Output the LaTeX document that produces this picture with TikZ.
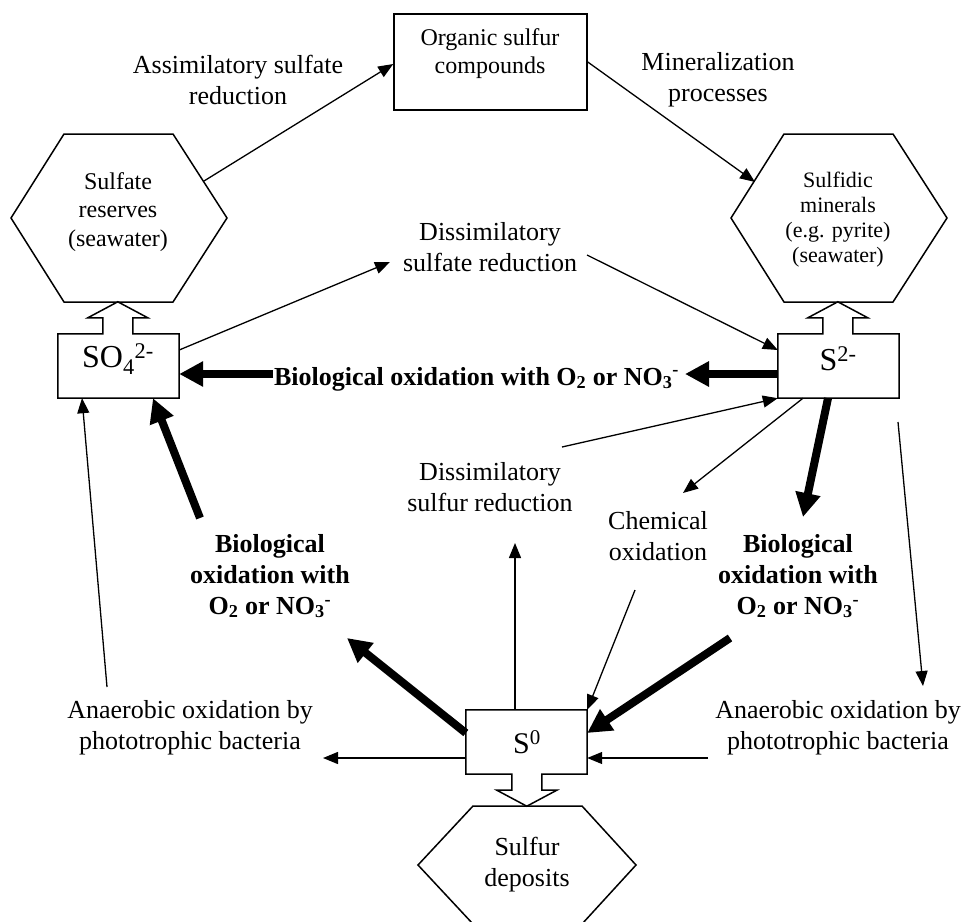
\documentclass[tikz,border=0pt]{standalone}
\usepackage{fontspec}
\setmainfont{Liberation Serif}
\usetikzlibrary{arrows.meta}
\begin{document}
\begin{tikzpicture}[x=1pt,y=-1pt,
  outline/.style={draw,line width=1.5pt,line join=miter},
  thinarrow/.style={line width=1.3pt,-{Triangle[length=15pt,width=12pt]}},
  thinline/.style={line width=1.3pt},
  thickarrow/.style={line width=8pt,-{Triangle[length=24pt,width=24pt]}},
  slot/.style={rectangle,inner sep=0pt,minimum width=121pt,minimum height=64pt},
  lbl/.style={align=center,inner sep=0pt,font=\fontsize{26}{31}\selectfont},
  blbl/.style={align=center,inner sep=0pt,font=\fontsize{26}{31}\selectfont\bfseries},
  hexlbl/.style={align=center,inner sep=0pt,font=\fontsize{24}{28.5}\selectfont},
  minlbl/.style={align=center,inner sep=0pt,font=\fontsize{22}{25}\selectfont},
  ionlbl/.style={inner sep=0pt,font=\fontsize{32}{36}\selectfont}]
\useasboundingbox (0,0) rectangle (966,921);

% hexagons
\draw[outline] (64,134) -- (173,134) -- (227,218) -- (173,302) -- (64,302) -- (11,218) -- cycle;
\draw[outline] (784,134) -- (893,134) -- (947,218) -- (893,302) -- (784,302) -- (731,218) -- cycle;
\draw[outline] (473,806) -- (582,806) -- (636,865) -- (582,924) -- (473,924) -- (418,865) -- cycle;
\node[hexlbl] (hexL) at (118,212) {Sulfate\\reserves\\(seawater)};
\node[minlbl] (hexR) at (838,220) {Sulfidic\\minerals\\(e.g. pyrite)\\(seawater)};
\node[lbl] (dep) at (527,865) {Sulfur\\deposits};

% organic box
\node[draw,line width=1.5pt,rectangle,inner sep=0pt,minimum width=193pt,minimum height=96pt] (org) at (490.5,62) {};
\node[hexlbl,align=center,font=\fontsize{24}{28}\selectfont] (orgt) at (490,54) {Organic sulfur\\compounds};

% ion boxes with hollow arrows
\node[slot] (so4) at (118.5,366) {};
\draw[outline] (so4.north west) -- ++(45,0) -- ++(0,-16) -- ++(-15,0) -- ++(30,-16) -- ++(30,16) -- ++(-15,0) -- ++(0,16) -- (so4.north east) -- (so4.south east) -- (so4.south west) -- cycle;
\node[ionlbl] (so4t) at (118,359) {SO\textsubscript{4}\textsuperscript{2-}};

\node[slot] (s2) at (838.5,366) {};
\draw[outline] (s2.north west) -- ++(45,0) -- ++(0,-16) -- ++(-15,0) -- ++(30,-16) -- ++(30,16) -- ++(-15,0) -- ++(0,16) -- (s2.north east) -- (s2.south east) -- (s2.south west) -- cycle;
\node[ionlbl] (s2t) at (838,359) {S\textsuperscript{2-}};

\node[slot,minimum width=121pt] (s0) at (526.5,742) {};
\draw[outline] (s0.south west) -- ++(46,0) -- ++(0,16) -- ++(-15,0) -- ++(30,16) -- ++(30,-16) -- ++(-15,0) -- ++(0,-16) -- (s0.south east) -- (s0.north east) -- (s0.north west) -- cycle;
\node[ionlbl,font=\fontsize{30}{34}\selectfont] (s0t) at (527,742) {S\textsuperscript{0}};

% labels
\node[lbl] (ass) at (238,80) {Assimilatory sulfate\\reduction};
\node[lbl] (mine) at (718,80) {Mineralization\\processes};
\node[lbl] (dsr) at (490,247.5) {Dissimilatory\\sulfate reduction};
\node[blbl,anchor=base] (bioh) at (476.5,385) {Biological oxidation with O\textsubscript{2} or NO\textsubscript{3}\textsuperscript{-}};
\node[lbl] (dsur) at (490,487.5) {Dissimilatory\\sulfur reduction};
\node[lbl] (chem) at (658,536) {Chemical\\oxidation};
\node[blbl] (biol) at (270,576) {Biological\\oxidation with\\O\textsubscript{2} or NO\textsubscript{3}\textsuperscript{-}};
\node[blbl] (bior) at (798,576) {Biological\\oxidation with\\O\textsubscript{2} or NO\textsubscript{3}\textsuperscript{-}};
\node[lbl] (anl) at (190,728) {Anaerobic oxidation by\\phototrophic bacteria};
\node[lbl] (anr) at (838,728) {Anaerobic oxidation by\\phototrophic bacteria};

% free connector ends
\coordinate (c1) at (204,181);
\coordinate (c2) at (755,182);
\coordinate (c3) at (390,262);
\coordinate (c4) at (587,255);
\coordinate (c5) at (273,374);
\coordinate (c6) at (685,374);
\coordinate (c7) at (562,447);
\coordinate (c8) at (683,493);
\coordinate (c9) at (803,517);
\coordinate (c10a) at (898,422);
\coordinate (c10b) at (923,686);
\coordinate (c11) at (200,518);
\coordinate (c12) at (107,687);
\coordinate (c13) at (515,543);
\coordinate (c14) at (635,590);
\coordinate (c15) at (730,638);
\coordinate (c16) at (708,758);
\coordinate (c17) at (347,638);
\coordinate (c18) at (323,758);

% connectors
\draw[thinarrow] (c1) -- ([yshift=-2pt]org.west);
\draw[thinarrow] (org.east) -- (c2);
\draw[thinarrow] ([yshift=16pt]so4.east) -- (c3);
\draw[thinarrow] (c4) -- ([yshift=16pt]s2.west);
\draw[thickarrow] (c5) -- ([yshift=-8pt]so4.east);
\draw[thickarrow] ([yshift=-8pt]s2.west) -- (c6);
\draw[thinarrow] (c7) -- (s2.south west);
\draw[thinarrow] ([xshift=-35.5pt]s2.south) -- (c8);
\draw[thickarrow] ([xshift=-10.5pt]s2.south) -- (c9);
\draw[thinarrow] (c10a) -- (c10b);
\draw[thickarrow] (c11) -- ([xshift=34.5pt]so4.south);
\draw[thinarrow] (c12) -- ([xshift=-36.5pt]so4.south);
\draw[thinarrow] ([xshift=-11.5pt]s0.north) -- (c13);
\draw[thinarrow] (c14) -- (s0.north east);
\draw[thickarrow] (c15) -- ([yshift=9pt]s0.east);
\draw[thinarrow] (c16) -- ([yshift=-16pt]s0.east);
\draw[thickarrow] ([yshift=9pt]s0.west) -- (c17);
\draw[thinarrow] ([yshift=-16pt]s0.west) -- (c18);
\end{tikzpicture}
\end{document}
